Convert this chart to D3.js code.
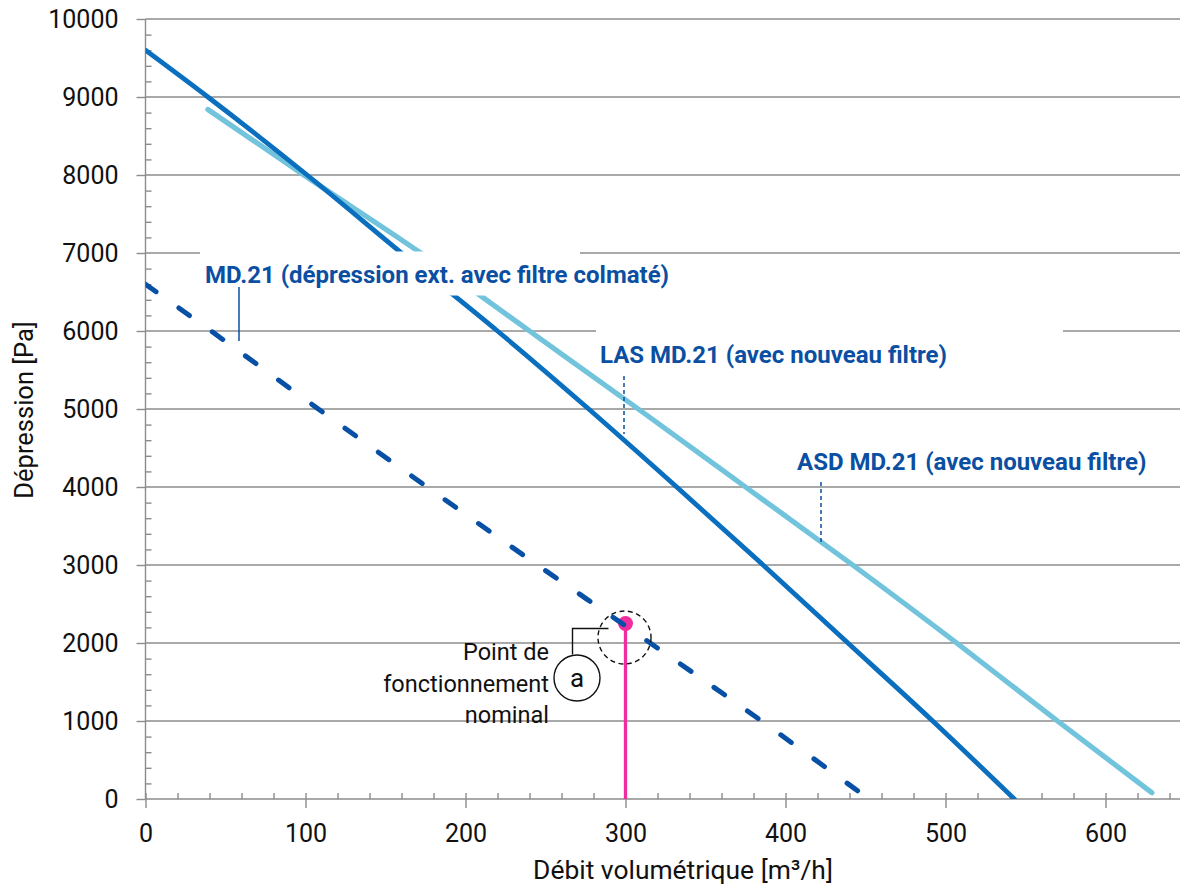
<!DOCTYPE html>
<html><head><meta charset="utf-8">
<script src="https://cdn.jsdelivr.net/npm/d3@7"></script>
<style>
html,body{margin:0;padding:0;background:#fff;}
svg{display:block;font-family:Roboto,"Noto Sans",sans-serif;}
</style></head>
<body><svg id="c" width="1180" height="888"></svg>
<script>
// ---- data ----
const xTicks = [0,100,200,300,400,500,600];
const yTicks = [0,1000,2000,3000,4000,5000,6000,7000,8000,9000,10000];
const xTitle = "Débit volumétrique [m³/h]";
const yTitle = "Dépression [Pa]";

// LAS MD.21 (avec nouveau filtre) - dark blue solid
const lasFlow     = [0,   39,  101, 160, 220, 277, 332, 386, 439, 492, 543];
const lasPressure = [9600,9000,8000,7000,6000,5000,4000,3000,2000,1000,0];
// ASD MD.21 (avec nouveau filtre) - light blue solid
const asdFlow     = [39,  99,  172, 240, 308, 375, 442, 507, 570, 629];
const asdPressure = [8840,8000,7000,6000,5000,4000,3000,2000,1000,80];
// MD.21 (dépression ext. avec filtre colmaté) - dashed
const mdFlow      = [0,   41,  108, 176, 245, 300, 385, 452];
const mdPressure  = [6600,6000,5000,4000,3000,2220,1000,0];
// nominal operating point
const opFlow = [300];
const opPressure = [2250];

const labels = ["MD.21 (dépression ext. avec filtre colmaté)",
                "LAS MD.21 (avec nouveau filtre)",
                "ASD MD.21 (avec nouveau filtre)"];
const opText = ["Point de","fonctionnement","nominal"];

// ---- chart ----
const svg = d3.select("#c");
const x = d3.scaleLinear().domain([0,650]).range([145.5,1185.5]);
const y = d3.scaleLinear().domain([0,10000]).range([799,19]);
const gridCol = "#8c8c8c";
const cDark = "#0a6fbe", cLight = "#72c3dc", cDash = "#0750a6", cLab = "#0b4fa3", cPink = "#f02d9f";

// gridlines
svg.append("g").selectAll("line").data(yTicks.filter(d=>d>0)).join("line")
  .attr("x1",x(0)).attr("x2",1180).attr("y1",d=>y(d)).attr("y2",d=>y(d))
  .attr("stroke",gridCol).attr("stroke-width",1.4);

// Y axis
const yMinor = d3.range(200,10000,200).filter(d=>d%1000!==0);
const gy = svg.append("g").attr("transform",`translate(${x(0)},0)`)
  .call(d3.axisLeft(y).tickValues(yTicks).tickSize(9).tickPadding(18).tickFormat(d3.format("d")));
gy.select(".domain").remove();
gy.selectAll("line").attr("stroke",gridCol).attr("stroke-width",1.4);
gy.selectAll("text").attr("font-size",25).attr("fill","#111").attr("font-family","Roboto");
const gym = svg.append("g").attr("transform",`translate(${x(0)},0)`)
  .call(d3.axisRight(y).tickValues(yMinor).tickSize(6).tickFormat(""));
gym.select(".domain").remove();
gym.selectAll("line").attr("stroke",gridCol).attr("stroke-width",1.4);
svg.append("line").attr("x1",x(0)).attr("x2",x(0)).attr("y1",y(10000)).attr("y2",y(0))
  .attr("stroke",gridCol).attr("stroke-width",1.4);

// X axis
const xMinor = d3.range(20,660,20).filter(d=>d%100!==0);
const gx = svg.append("g").attr("transform",`translate(0,${y(0)})`)
  .call(d3.axisBottom(x).tickValues(xTicks).tickSize(9).tickPadding(16));
gx.select(".domain").remove();
gx.selectAll("line").attr("y1",-6).attr("stroke",gridCol).attr("stroke-width",1.4);
gx.selectAll("text").attr("font-size",25).attr("fill","#111").attr("font-family","Roboto");
const gxm = svg.append("g").attr("transform",`translate(0,${y(0)})`)
  .call(d3.axisTop(x).tickValues(xMinor).tickSize(6).tickFormat(""));
gxm.select(".domain").remove();
gxm.selectAll("line").attr("stroke",gridCol).attr("stroke-width",1.4);
svg.append("line").attr("x1",x(0)).attr("x2",1180).attr("y1",y(0)).attr("y2",y(0))
  .attr("stroke",gridCol).attr("stroke-width",1.4);

// axis titles
svg.append("text").attr("x",683).attr("y",879).attr("text-anchor","middle")
  .attr("font-size",26.4).attr("fill","#111").text(xTitle);
svg.append("text").attr("transform","translate(33,410) rotate(-90)").attr("text-anchor","middle")
  .attr("font-size",25.5).attr("fill","#111").text(yTitle);

// clip
svg.append("clipPath").attr("id","clip").append("rect")
  .attr("x",x(0)).attr("y",y(10000)-10).attr("width",1180-x(0)).attr("height",y(0)-y(10000)+10);

const line = d3.line().x(d=>x(d[0])).y(d=>y(d[1])).curve(d3.curveMonotoneX);
const plot = svg.append("g").attr("clip-path","url(#clip)");

// pink operating line
plot.append("line").attr("x1",x(opFlow[0])).attr("x2",x(opFlow[0]))
  .attr("y1",y(opPressure[0])).attr("y2",y(0)).attr("stroke",cPink).attr("stroke-width",3.3);
plot.append("circle").attr("cx",x(opFlow[0])).attr("cy",y(opPressure[0])).attr("r",7.5).attr("fill",cPink);

plot.append("path").datum(d3.zip(asdFlow,asdPressure)).attr("d",line)
  .attr("fill","none").attr("stroke",cLight).attr("stroke-width",5.2).attr("stroke-linecap","round");
plot.append("path").datum(d3.zip(lasFlow,lasPressure)).attr("d",line)
  .attr("fill","none").attr("stroke",cDark).attr("stroke-width",4.8).attr("stroke-linecap","round");
plot.append("path").datum(d3.zip(mdFlow,mdPressure)).attr("d",line)
  .attr("fill","none").attr("stroke",cDash).attr("stroke-width",5).attr("stroke-linecap","round")
  .attr("stroke-dasharray","13,28");

// label backgrounds
svg.append("rect").attr("x",200).attr("y",251.5).attr("width",380).attr("height",44).attr("fill","#fff");
svg.append("rect").attr("x",596).attr("y",328).attr("width",467).attr("height",9).attr("fill","#fff");

// labels
const lab = [[205,283,labels[0]],[600,363,labels[1]],[797,469.5,labels[2]]];
svg.append("g").selectAll("text").data(lab).join("text")
  .attr("x",d=>d[0]).attr("y",d=>d[1]).attr("font-size",24).attr("font-weight","bold")
  .attr("fill",cLab).text(d=>d[2]);
// leaders
svg.append("line").attr("x1",239).attr("x2",239).attr("y1",287).attr("y2",341)
  .attr("stroke",cLab).attr("stroke-width",1.5);
svg.append("line").attr("x1",624).attr("x2",624).attr("y1",376).attr("y2",434)
  .attr("stroke",cLab).attr("stroke-width",1.5).attr("stroke-dasharray","4,3");
svg.append("line").attr("x1",821).attr("x2",821).attr("y1",482).attr("y2",543)
  .attr("stroke",cLab).attr("stroke-width",1.5).attr("stroke-dasharray","4,3");

// operating point annotation
const px = x(opFlow[0]), py = y(opPressure[0]);
svg.append("circle").attr("cx",px-1).attr("cy",py+14).attr("r",26.5)
  .attr("fill","none").attr("stroke","#111").attr("stroke-width",1.4).attr("stroke-dasharray","5,3.5");
svg.append("path").attr("d",`M${px-53},${py+31} V${py+5} H${px-17}`)
  .attr("fill","none").attr("stroke","#111").attr("stroke-width",1.4);
svg.append("circle").attr("cx",px-48.5).attr("cy",py+54.5).attr("r",23)
  .attr("fill","#fff").attr("stroke","#111").attr("stroke-width",1.4);
svg.append("text").attr("x",px-48.5).attr("y",py+63).attr("text-anchor","middle")
  .attr("font-size",26).attr("fill","#111").text("a");
svg.append("g").selectAll("text").data(opText).join("text")
  .attr("x",549).attr("y",(d,i)=>660+i*31.5).attr("text-anchor","end")
  .attr("font-size",23.5).attr("fill","#111").text(d=>d);
</script></body></html>
